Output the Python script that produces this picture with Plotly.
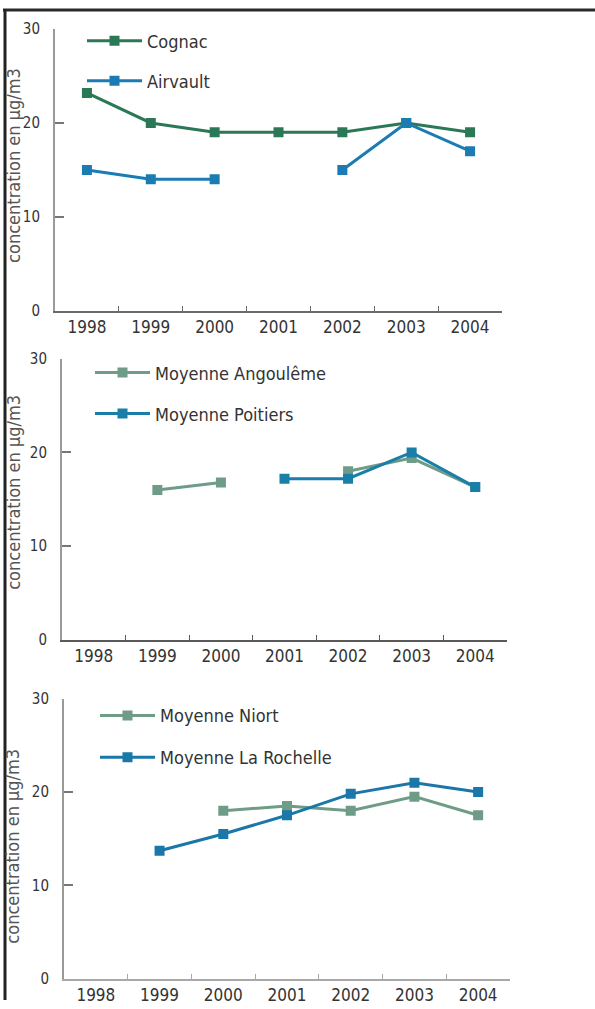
import plotly.graph_objects as go

W, H = 595, 1009

years = ["1998", "1999", "2000", "2001", "2002", "2003", "2004"]
y_ticks = [0, 10, 20, 30]

cognac = [23.2, 20, 19, 19, 19, 20, 19]
airvault = [15, 14, 14, None, 15, 20, 17]
angouleme = [None, 16, 16.8, None, 18, 19.4, 16.3]
poitiers = [None, None, None, 17.2, 17.2, 20, 16.3]
niort = [None, None, 18, 18.5, 18, 19.5, 17.5]
larochelle = [None, 13.7, 15.5, 17.5, 19.8, 21, 20]

names = ["Cognac", "Airvault", "Moyenne Angoulême", "Moyenne Poitiers",
         "Moyenne Niort", "Moyenne La Rochelle"]
values = [cognac, airvault, angouleme, poitiers, niort, larochelle]
colors = ["#2b7856", "#1a7cb2", "#6f9c88", "#1a7fa8", "#6f9c86", "#1a77a8"]
panel_of = [1, 1, 2, 2, 3, 3]

y_title = "concentration en µg/m3"


def Y(ry):
    # convert a target pixel row to a figure pixel row (compensates the viewer offset)
    return (ry - 8) / 0.9826


# panel geometry in pixels: (x0, x1, ytop, ybottom)
panels = {1: (55, 502, 28, 310), 2: (62, 507, 358, 639), 3: (64, 510, 698, 978)}
# legend anchor pixels (x of item start, y center)
leg_pos = [(82, 40), (82, 80), (90, 372), (90, 413), (95, 715), (95, 757)]
title_pos = [(14, 165), (14, 492), (13, 846)]
xaxis_colors = {1: "#6a6a6a", 2: "#5a5a5a", 3: "#a8a8a8"}

FONT = "Liberation Sans Narrow, Arial Narrow, DejaVu Sans Condensed, sans-serif"

fig = go.Figure()
layout = dict(
    width=W, height=H, margin=dict(l=0, r=0, t=0, b=0),
    paper_bgcolor="white", plot_bgcolor="white", showlegend=True,
    font=dict(family=FONT, color="#333333"),
)

for i, (nm, vals, col, p) in enumerate(zip(names, values, colors, panel_of)):
    leg = "legend" if i == 0 else f"legend{i+1}"
    sfx = "" if p == 1 else str(p)
    fig.add_trace(go.Scatter(
        x=years, y=vals, name=nm, mode="lines+markers",
        line=dict(color=col, width=3),
        marker=dict(symbol="square", size=10, color=col),
        connectgaps=False, xaxis="x" + sfx, yaxis="y" + sfx, legend=leg,
    ))
    lx, ly = leg_pos[i]
    layout[leg] = dict(
        x=lx / W, y=1 - Y(ly) / H, xanchor="left", yanchor="middle",
        bgcolor="rgba(0,0,0,0)", itemwidth=55,
        font=dict(family=FONT, size=18, color="#333333"),
    )

for p, (x0, x1, yt, yb) in panels.items():
    sfx = "" if p == 1 else str(p)
    layout["xaxis" + sfx] = dict(
        domain=[x0 / W, x1 / W], anchor="y" + sfx, type="category",
        range=[-0.5, 6.5], showgrid=False, zeroline=False,
        showline=True, linecolor=xaxis_colors[p], linewidth=2,
        ticks="inside", tickson="boundaries", ticklen=5, tickwidth=1,
        tickcolor=xaxis_colors[p],
        tickfont=dict(family=FONT, size=17, color="#333333"),
        fixedrange=True,
    )
    layout["yaxis" + sfx] = dict(
        domain=[1 - Y(yb) / H, 1 - Y(yt) / H], anchor="x" + sfx,
        range=[0, 30], tickvals=y_ticks, showgrid=False, zeroline=False,
        showline=True, linecolor="#9a9a9a", linewidth=2,
        ticks="inside", ticklen=9, tickwidth=2, tickcolor="#777777",
        ticklabelstandoff=10,
        tickfont=dict(family=FONT, size=15, color="#333333"),
        fixedrange=True,
    )

annotations = []
for (tx, ty) in title_pos:
    annotations.append(dict(
        text=y_title, x=tx / W, y=1 - Y(ty) / H, xref="paper", yref="paper",
        showarrow=False, textangle=-90, xanchor="center", yanchor="middle",
        font=dict(family=FONT, size=18, color="#555555"),
    ))
layout["annotations"] = annotations

layout["shapes"] = [
    dict(type="line", xref="paper", yref="paper", x0=3 / W, x1=1, y0=1 - 1 / H, y1=1 - 1 / H,
         line=dict(color="#2a2a2a", width=3)),
    dict(type="line", xref="paper", yref="paper", x0=5 / W, x1=5 / W, y0=0, y1=1,
         line=dict(color="#222222", width=3)),
]

fig.update_layout(**layout)
fig.write_html(
    "out.html",
    config={"displayModeBar": False, "staticPlot": True},
    post_script=(
        "document.documentElement.style.margin='0';document.body.style.margin='0';"
        "document.body.style.overflow='hidden';"
    ),
)
